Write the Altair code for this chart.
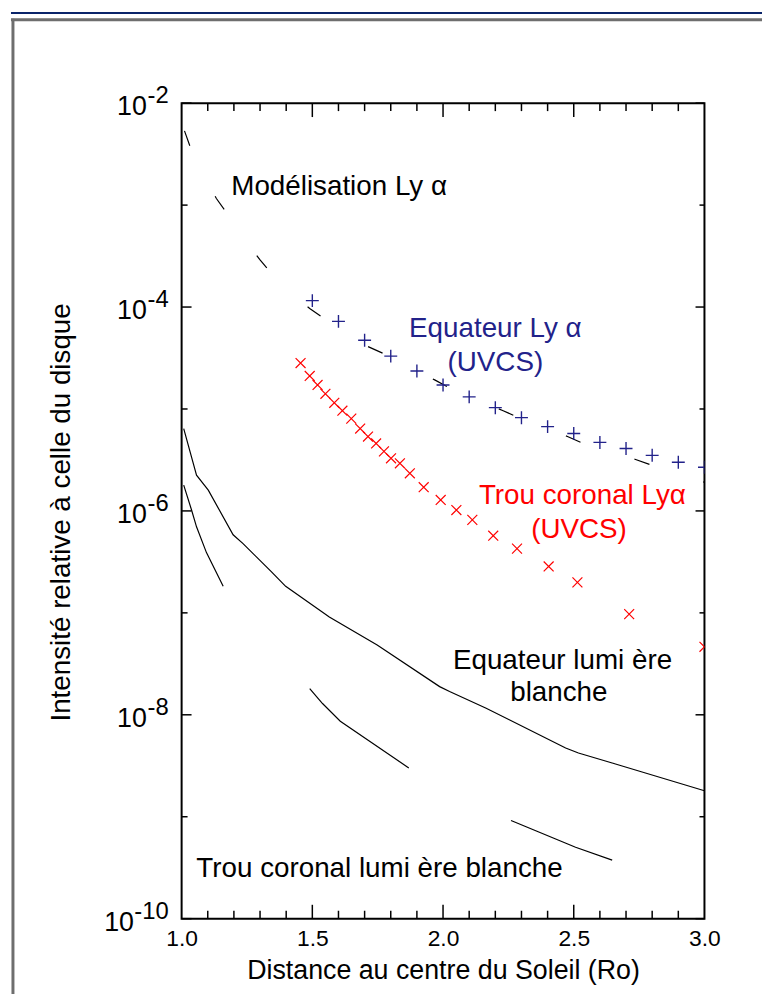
import altair as alt
import pandas as pd

# ---------------- data ----------------
# Modelisation Ly-alpha (dashed black curve)
model_x = [1.011, 1.038, 1.083, 1.133, 1.171, 1.235, 1.300, 1.345, 1.417, 1.490, 1.539,
           1.710, 1.786, 1.968, 2.025, 2.230, 2.290, 2.476, 2.537, 2.734, 2.799, 3.0]
model_y = [5.35e-3, 3.41e-3, 1.99e-3, 1.16e-3, 8.49e-4, 4.85e-4, 2.90e-4, 2.12e-4, 1.38e-4,
           9.66e-5, 7.91e-5, 4.13e-5, 3.37e-5, 1.93e-5, 1.61e-5, 9.62e-6, 8.22e-6, 5.37e-6,
           4.59e-6, 3.21e-6, 2.81e-6, 1.91e-6]

# Equateur Ly-alpha (UVCS), blue "+"
eq_uvcs_x = [1.5, 1.6, 1.7, 1.8, 1.9, 2.0, 2.1, 2.2, 2.3, 2.4, 2.5, 2.6, 2.7, 2.8, 2.9, 3.0]
eq_uvcs_y = [1.156e-4, 7.23e-5, 4.72e-5, 3.30e-5, 2.36e-5, 1.72e-5, 1.315e-5, 1.03e-5,
             8.22e-6, 6.71e-6, 5.74e-6, 4.70e-6, 4.10e-6, 3.51e-6, 3.00e-6, 2.68e-6]

# Trou coronal Ly-alpha (UVCS), red "x"
ch_uvcs_x = [1.455, 1.490, 1.520, 1.550, 1.584, 1.615, 1.649, 1.683, 1.713, 1.744, 1.774, 1.801,
             1.835, 1.873, 1.926, 1.991, 2.051, 2.112, 2.192, 2.283, 2.404, 2.514, 2.712, 3.0]
ch_uvcs_y = [2.82e-5, 2.11e-5, 1.72e-5, 1.41e-5, 1.15e-5, 9.62e-6, 8.04e-6, 6.43e-6, 5.37e-6,
             4.59e-6, 3.84e-6, 3.28e-6, 2.93e-6, 2.34e-6, 1.71e-6, 1.28e-6, 1.02e-6, 8.17e-7,
             5.71e-7, 4.27e-7, 2.85e-7, 1.99e-7, 9.72e-8, 4.65e-8]

# Equateur lumiere blanche (solid black)
eq_wl_x = [1.008, 1.057, 1.102, 1.197, 1.235, 1.342, 1.398, 1.565, 1.748, 1.987, 2.025,
           2.165, 2.469, 2.518, 2.647, 3.0]
eq_wl_y = [6.43e-6, 2.24e-6, 1.60e-6, 5.83e-7, 4.78e-7, 2.55e-7, 1.82e-7, 9.10e-8, 4.85e-8,
           1.89e-8, 1.69e-8, 1.16e-8, 4.72e-9, 4.22e-9, 3.37e-9, 1.80e-9]

# Trou coronal lumiere blanche (three separate solid pieces)
ch_wl_x = [1.008, 1.038, 1.057, 1.095, 1.159, 1.490, 1.539, 1.607, 1.869, 2.260, 2.507, 2.647]
ch_wl_y = [1.79e-6, 1.02e-6, 6.98e-7, 3.90e-7, 1.82e-7, 1.81e-8, 1.29e-8, 8.65e-9, 3.01e-9,
           9.20e-10, 5.02e-10, 3.75e-10]
ch_wl_piece = [1, 1, 1, 1, 1, 2, 2, 2, 2, 3, 3, 3]

# annotations (data coordinates)
ann_text = ["Equateur Ly α", "(UVCS)", "Trou coronal  Lyα", "(UVCS)",
            "Equateur lumi ère", "blanche", "Trou coronal lumi ère blanche"]
ann_x = [2.2, 2.2, 2.533, 2.52, 2.457, 2.443, 1.757]
ann_y = [6.04e-5, 2.82e-5, 1.40e-6, 6.53e-7, 3.39e-8, 1.62e-8, 3.07e-10]
ann_color = ["#22228a", "#22228a", "#ff0000", "#ff0000", "black", "black", "black"]
model_label = ["Modélisation Ly α"]
model_label_x = [1.19]
model_label_y = [1.52e-3]

# ticks
x_labels = [1.0, 1.5, 2.0, 2.5, 3.0]
x_minor = [1.1, 1.2, 1.3, 1.4, 1.6, 1.7, 1.8, 1.9, 2.1, 2.2, 2.3, 2.4, 2.6, 2.7, 2.8, 2.9]
x_major = [1.5, 2.0, 2.5]
y_major = [1e-2, 1e-4, 1e-6, 1e-8, 1e-10]
y_minor = [1e-3, 1e-5, 1e-7, 1e-9]
y_exp = ["-2", "-4", "-6", "-8", "-10"]

# ---------------- chart ----------------
FONT = "Liberation Sans"
W, H = 527, 822
xs = alt.Scale(domain=[1.0, 3.0], nice=False, zero=False)
ys = alt.Scale(type="log", domain=[1e-10, 1e-2], nice=False)

x_axis = alt.Axis(values=x_labels, format=".1f", ticks=False, domain=False, grid=False,
                  labelFontSize=23, labelPadding=9, labelFont=FONT, labelColor="black",
                  labelFlush=False, labelOverlap=False,
                  title="Distance au centre du Soleil (Ro)", titleFontSize=27,
                  titleFont=FONT, titleFontWeight="normal", titleColor="black",
                  titleBaseline="middle", titleY=52)
y_axis = alt.Axis(labels=False, ticks=False, domain=False, grid=False,
                  title="Intensité relative à celle du disque", titleFontSize=28,
                  titleFont=FONT, titleFontWeight="normal", titleColor="black",
                  titleAngle=-90, titleX=-121, titleY=412, titleAlign="center",
                  titleBaseline="middle")


def X(f):
    return alt.X(f, type="quantitative", scale=xs, axis=x_axis)


def Y(f):
    return alt.Y(f, type="quantitative", scale=ys, axis=y_axis)


model_df = pd.DataFrame({"x": model_x, "y": model_y})
eqp_df = pd.DataFrame({"x": eq_uvcs_x, "y": eq_uvcs_y})
chp_df = pd.DataFrame({"x": ch_uvcs_x, "y": ch_uvcs_y})
eqwl_df = pd.DataFrame({"x": eq_wl_x, "y": eq_wl_y})
chwl_df = pd.DataFrame({"x": ch_wl_x, "y": ch_wl_y, "piece": ch_wl_piece})
ann_df = pd.DataFrame({"t": ann_text, "x": ann_x, "y": ann_y, "c": ann_color})
mlab_df = pd.DataFrame({"t": model_label, "x": model_label_x, "y": model_label_y})
ylab_df = pd.DataFrame({"v": y_major, "base": ["10"] * len(y_major), "exp": y_exp})
dummy = pd.DataFrame({"a": [0]})

model_line = alt.Chart(model_df).mark_line(color="black", strokeWidth=1.2,
                                           strokeDash=[16, 57], clip=True).encode(
    x=X("x"), y=Y("y"))
eqwl_line = alt.Chart(eqwl_df).mark_line(color="black", strokeWidth=1.2, clip=True).encode(
    x=X("x"), y=Y("y"))
chwl_line = alt.Chart(chwl_df).mark_line(color="black", strokeWidth=1.2, clip=True).encode(
    x=X("x"), y=Y("y"), detail="piece:N")

plus_pts = alt.Chart(eqp_df).mark_point(shape="M-1,0L1,0M0,-1L0,1", size=170, filled=False,
                                        color="#22228a", strokeWidth=1.4, clip=True,
                                        opacity=1).encode(x=X("x"), y=Y("y"))
cross_pts = alt.Chart(chp_df).mark_point(shape="M-1,-1L1,1M1,-1L-1,1", size=100, filled=False,
                                         color="#ff0000", strokeWidth=1.2, clip=True,
                                         opacity=1).encode(x=X("x"), y=Y("y"))

ann = alt.Chart(ann_df).mark_text(font=FONT, fontSize=28, align="center",
                                  baseline="middle").encode(
    x=X("x"), y=Y("y"), text="t:N", color=alt.Color("c:N", scale=None))
mlab = alt.Chart(mlab_df).mark_text(font=FONT, fontSize=28, align="left", baseline="middle",
                                    color="black").encode(x=X("x"), y=Y("y"), text="t:N")

# y tick labels 10^n
ylab_base1 = alt.Chart(ylab_df).transform_filter(alt.datum.exp != "-10").mark_text(
    font=FONT, fontSize=27, align="right", baseline="middle", dy=4, color="black").encode(
    x=alt.value(-35), y=Y("v"), text="base:N")
ylab_base2 = alt.Chart(ylab_df).transform_filter(alt.datum.exp == "-10").mark_text(
    font=FONT, fontSize=27, align="right", baseline="middle", dy=4, color="black").encode(
    x=alt.value(-48), y=Y("v"), text="base:N")
ylab_exp = alt.Chart(ylab_df).mark_text(
    font=FONT, fontSize=24, align="right", baseline="middle", dy=-7, color="black").encode(
    x=alt.value(-13), y=Y("v"), text="exp:N")

# tick rules
xmin_df = pd.DataFrame({"x": x_minor})
xmaj_df = pd.DataFrame({"x": x_major})
ymaj_df = pd.DataFrame({"y": y_major})
ymin_df = pd.DataFrame({"y": y_minor})
TK = dict(color="black", strokeWidth=1.5)
ticks = [
    alt.Chart(xmin_df).mark_rule(**TK).encode(x=X("x"), y=alt.value(0), y2=alt.value(8)),
    alt.Chart(xmaj_df).mark_rule(**TK).encode(x=X("x"), y=alt.value(0), y2=alt.value(14)),
    alt.Chart(xmin_df).mark_rule(**TK).encode(x=X("x"), y=alt.value(H), y2=alt.value(H - 8)),
    alt.Chart(xmaj_df).mark_rule(**TK).encode(x=X("x"), y=alt.value(H), y2=alt.value(H - 14)),
    alt.Chart(ymaj_df).mark_rule(**TK).encode(y=Y("y"), x=alt.value(0), x2=alt.value(10)),
    alt.Chart(ymin_df).mark_rule(**TK).encode(y=Y("y"), x=alt.value(0), x2=alt.value(6)),
    alt.Chart(ymaj_df).mark_rule(**TK).encode(y=Y("y"), x=alt.value(W), x2=alt.value(W - 9)),
    alt.Chart(ymin_df).mark_rule(**TK).encode(y=Y("y"), x=alt.value(W), x2=alt.value(W - 5)),
]

# window frame decoration
frame = [
    alt.Chart(dummy).mark_rule(color="#0a246a", strokeWidth=2).encode(
        x=alt.value(-172), x2=alt.value(590), y=alt.value(-91)),
    alt.Chart(dummy).mark_rule(color="#6e6e6e", strokeWidth=3).encode(
        x=alt.value(-172), x2=alt.value(590), y=alt.value(-84)),
    alt.Chart(dummy).mark_rule(color="#6e6e6e", strokeWidth=3).encode(
        x=alt.value(-170), y=alt.value(-85), y2=alt.value(900)),
]

chart = alt.layer(
    *frame, *ticks, model_line, eqwl_line, chwl_line, plus_pts, cross_pts,
    ann, mlab, ylab_base1, ylab_base2, ylab_exp
).properties(
    width=W, height=H,
    padding={"left": 175, "top": 92, "right": 58, "bottom": 72},
    autosize=alt.AutoSizeParams(type="none"),
    background="white",
).configure_view(stroke="black", strokeWidth=2)

chart.save("out.html", embed_options={"renderer": "svg", "actions": False})
